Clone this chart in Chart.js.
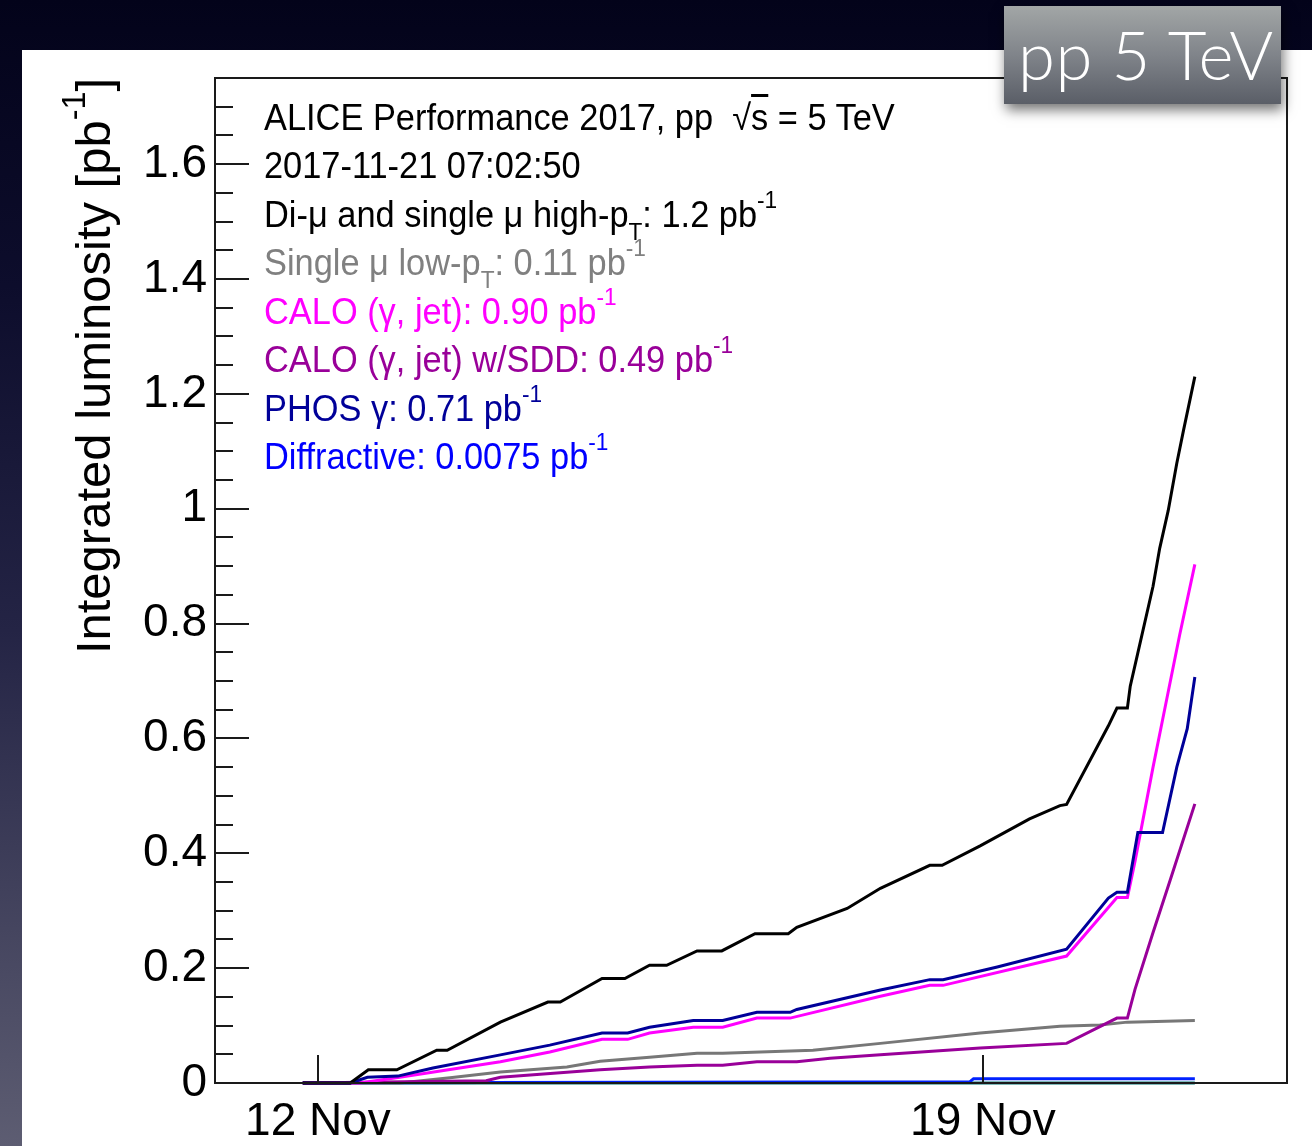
<!DOCTYPE html>
<html>
<head>
<meta charset="utf-8">
<script src="https://cdn.jsdelivr.net/npm/chart.js@4"></script>
<style>
  html, body { margin: 0; padding: 0; }
  body {
    width: 1312px; height: 1146px; overflow: hidden; position: relative;
    background: linear-gradient(180deg, #03031a 0%, #0d0d2c 25%, #242445 55%, #5d5d72 100%);
    font-family: "Liberation Sans", Arial, Helvetica, sans-serif;
  }
  #panel { position: absolute; left: 22px; top: 50px; right: 0; bottom: 0; background: #fff; }
  #lumi { position: absolute; left: 0; top: 0; }
  #notes {
    position: absolute; left: 264px; top: 93.5px; font-size: 36px; line-height: 48.5px; white-space: nowrap;
    transform: scaleX(0.955); transform-origin: 0 0;
  }
  #ytitle {
    position: absolute; left: -207px; top: 342px; width: 600px; height: 48px;
    font-size: 49px; line-height: 48px; text-align: center; white-space: nowrap;
    transform: rotate(-90deg);
  }
  sup, sub { font-size: 0.66em; line-height: 0; position: relative; vertical-align: baseline; }
  sup { top: -0.78em; }
  sub { top: 0.55em; }
  .ovl { text-decoration: overline; }
  #tag {
    position: absolute; left: 1004px; top: 6px; width: 277px; height: 98px;
    background: linear-gradient(180deg, #a2a6a6 0%, #80848a 50%, #5a5e67 100%);
    box-shadow: 2px 6px 12px rgba(0, 0, 0, 0.55);
  }
  #tag span {
    position: absolute; left: 14px; top: 10px; color: #fff;
    font-family: "Lato Light", "Roboto Light", Lato, sans-serif; font-weight: 300; font-size: 67px; line-height: 76.8px;
    letter-spacing: 0.5px; white-space: nowrap;
  }
</style>
</head>
<body>
<div id="panel"></div>
<canvas id="lumi" width="1312" height="1146"></canvas>
<div id="ytitle">Integrated luminosity [pb<sup>-1</sup>]</div>
<div id="notes"></div>
<div id="tag"><span>pp 5 TeV</span></div>

<script>
// time axis in days since 12 Nov 2017 00:00
const dayTicks = [0, 7];
const dayTickLabels = ['12 Nov', '19 Nov'];

// integrated luminosity per trigger class [pb^-1]
const diMuDays = [-0.16, 0.34, 0.53, 0.83, 1.25, 1.36, 1.92, 2.42, 2.55, 2.99, 3.23, 3.49, 3.67, 3.99, 4.25, 4.6, 4.95, 5.04, 5.57, 5.92, 6.44, 6.57, 6.97, 7.49, 7.81, 7.88, 8.32, 8.41, 8.52, 8.55, 8.63, 8.79, 8.86, 8.95, 9.04, 9.11, 9.23];
const diMuLumi = [0, 0, 0.023, 0.023, 0.057, 0.057, 0.106, 0.141, 0.141, 0.182, 0.182, 0.205, 0.205, 0.23, 0.23, 0.26, 0.26, 0.271, 0.304, 0.339, 0.379, 0.379, 0.413, 0.46, 0.483, 0.485, 0.622, 0.653, 0.653, 0.691, 0.749, 0.865, 0.931, 0.997, 1.079, 1.136, 1.23];

const lowPtDays = [-0.16, 0.86, 1.39, 1.92, 2.62, 2.97, 3.49, 3.99, 4.26, 5.21, 5.92, 6.97, 7.81, 8.23, 8.52, 9.23];
const lowPtLumi = [0, 0, 0.009, 0.019, 0.028, 0.038, 0.045, 0.052, 0.052, 0.057, 0.069, 0.087, 0.099, 0.101, 0.106, 0.109];

const caloDays = [-0.16, 0.44, 0.86, 1.92, 2.44, 2.99, 3.26, 3.49, 3.95, 4.26, 4.62, 4.97, 5.92, 6.44, 6.58, 7.88, 8.41, 8.52, 8.6, 8.79, 8.89, 9.07, 9.23];
const caloLumi = [0, 0, 0.01, 0.037, 0.054, 0.076, 0.076, 0.087, 0.097, 0.097, 0.113, 0.113, 0.151, 0.17, 0.17, 0.221, 0.323, 0.323, 0.386, 0.55, 0.632, 0.78, 0.903];

const caloSddDays = [-0.16, 1.77, 1.92, 2.97, 3.49, 3.99, 4.26, 4.62, 5.04, 5.39, 5.92, 6.97, 7.88, 8.41, 8.52, 8.6, 8.79, 8.97, 9.23];
const caloSddLumi = [0, 0.004, 0.01, 0.023, 0.028, 0.031, 0.031, 0.037, 0.037, 0.043, 0.049, 0.061, 0.069, 0.113, 0.113, 0.163, 0.262, 0.353, 0.486];

const phosDays = [-0.16, 0.34, 0.52, 0.84, 1.21, 1.92, 2.44, 2.99, 3.26, 3.49, 3.95, 4.26, 4.62, 4.97, 5.04, 5.92, 6.44, 6.58, 7.15, 7.88, 8.32, 8.41, 8.52, 8.63, 8.89, 9.04, 9.15, 9.23];
const phosLumi = [0, 0, 0.01, 0.012, 0.026, 0.049, 0.066, 0.087, 0.087, 0.097, 0.109, 0.109, 0.123, 0.123, 0.128, 0.162, 0.18, 0.18, 0.202, 0.233, 0.322, 0.332, 0.332, 0.436, 0.436, 0.55, 0.617, 0.707];

const diffrDays = [-0.16, 1.77, 3.49, 6.86, 6.9, 9.23];
const diffrLumi = [0, 0.0008, 0.0015, 0.002, 0.0072, 0.0075];

const flatDays = [-0.16, 9.23];
const flatLumi = [0, 0];

function points(days, lumi) {
    return days.map((d, i) => ({ x: d, y: lumi[i] }));
}

function last(arr) {
    return arr[arr.length - 1];
}

function fmt(v) {
    return v.toPrecision(2);
}

function isMajor(v) {
    return Math.abs(v * 5 - Math.round(v * 5)) < 1e-6;
}

// text block in the upper left of the frame
document.getElementById('notes').innerHTML = [
    '<div>ALICE Performance 2017, pp&nbsp; √<span class="ovl">s</span> = 5 TeV</div>',
    '<div>2017-11-21 07:02:50</div>',
    `<div>Di-μ and single μ high-p<sub>T</sub>: ${fmt(last(diMuLumi))} pb<sup>-1</sup></div>`,
    `<div style="color:#808080">Single μ low-p<sub>T</sub>: ${fmt(last(lowPtLumi))} pb<sup>-1</sup></div>`,
    `<div style="color:#ff00ff">CALO (γ, jet): ${fmt(last(caloLumi))} pb<sup>-1</sup></div>`,
    `<div style="color:#990099">CALO (γ, jet) w/SDD: ${fmt(last(caloSddLumi))} pb<sup>-1</sup></div>`,
    `<div style="color:#000099">PHOS γ: ${fmt(last(phosLumi))} pb<sup>-1</sup></div>`,
    `<div style="color:#0000ff">Diffractive: ${fmt(last(diffrLumi))} pb<sup>-1</sup></div>`
].join('');

// frame box plus inward tick marks, ROOT style
const frameTicks = {
    id: 'frameTicks',
    afterDatasetsDraw(chart) {
        const { ctx, chartArea: a, scales: { x, y } } = chart;
        ctx.save();
        ctx.strokeStyle = '#1a1a1a';
        ctx.lineWidth = 2;
        ctx.beginPath();
        y.ticks.forEach(t => {
            const py = Math.round(y.getPixelForValue(t.value));
            const len = isMajor(t.value) ? 34 : 18;
            ctx.moveTo(a.left, py);
            ctx.lineTo(a.left + len, py);
        });
        x.ticks.forEach(t => {
            const px = Math.round(x.getPixelForValue(t.value));
            ctx.moveTo(px, a.bottom);
            ctx.lineTo(px, a.bottom - 28);
        });
        ctx.stroke();
        ctx.strokeRect(a.left, a.top, a.right - a.left, a.bottom - a.top);
        ctx.restore();
    }
};

function line(data, color) {
    return {
        data: data,
        borderColor: color,
        borderWidth: 3,
        pointRadius: 0,
        tension: 0,
        fill: false,
        clip: 4
    };
}

new Chart(document.getElementById('lumi'), {
    type: 'line',
    data: {
        datasets: [
            line(points(diMuDays, diMuLumi), '#000000'),
            line(points(phosDays, phosLumi), '#000099'),
            line(points(caloDays, caloLumi), '#ff00ff'),
            line(points(caloSddDays, caloSddLumi), '#990099'),
            line(points(lowPtDays, lowPtLumi), '#777777'),
            line(points(diffrDays, diffrLumi), '#0022ff'),
            line(points(flatDays, flatLumi), '#007777')
        ]
    },
    options: {
        responsive: false,
        animation: false,
        devicePixelRatio: 1,
        layout: { padding: { top: 78, right: 25, bottom: 0, left: 0 } },
        plugins: { legend: { display: false }, tooltip: { enabled: false } },
        scales: {
            x: {
                type: 'linear',
                min: -1.084,
                max: 10.2,
                grid: { display: false },
                border: { display: false },
                afterBuildTicks: s => { s.ticks = dayTicks.map(v => ({ value: v })); },
                afterFit: s => { s.height = 63; },
                ticks: {
                    autoSkip: false,
                    maxRotation: 0,
                    padding: 4,
                    color: '#000',
                    font: { family: 'Liberation Sans', size: 46 },
                    callback: (v, i) => dayTickLabels[i]
                }
            },
            y: {
                type: 'linear',
                min: 0,
                max: 1.75,
                grid: { display: false },
                border: { display: false },
                afterBuildTicks: s => {
                    const ticks = [];
                    for (let i = 0; i <= 35; i++) ticks.push({ value: i * 0.05 });
                    s.ticks = ticks;
                },
                afterFit: s => { s.width = 215; },
                ticks: {
                    autoSkip: false,
                    padding: 0,
                    color: '#000',
                    font: { family: 'Liberation Sans', size: 46 },
                    callback: v => isMajor(v) ? String(Math.round(v * 5) / 5) : ''
                }
            }
        }
    },
    plugins: [frameTicks]
});
</script>
</body>
</html>
